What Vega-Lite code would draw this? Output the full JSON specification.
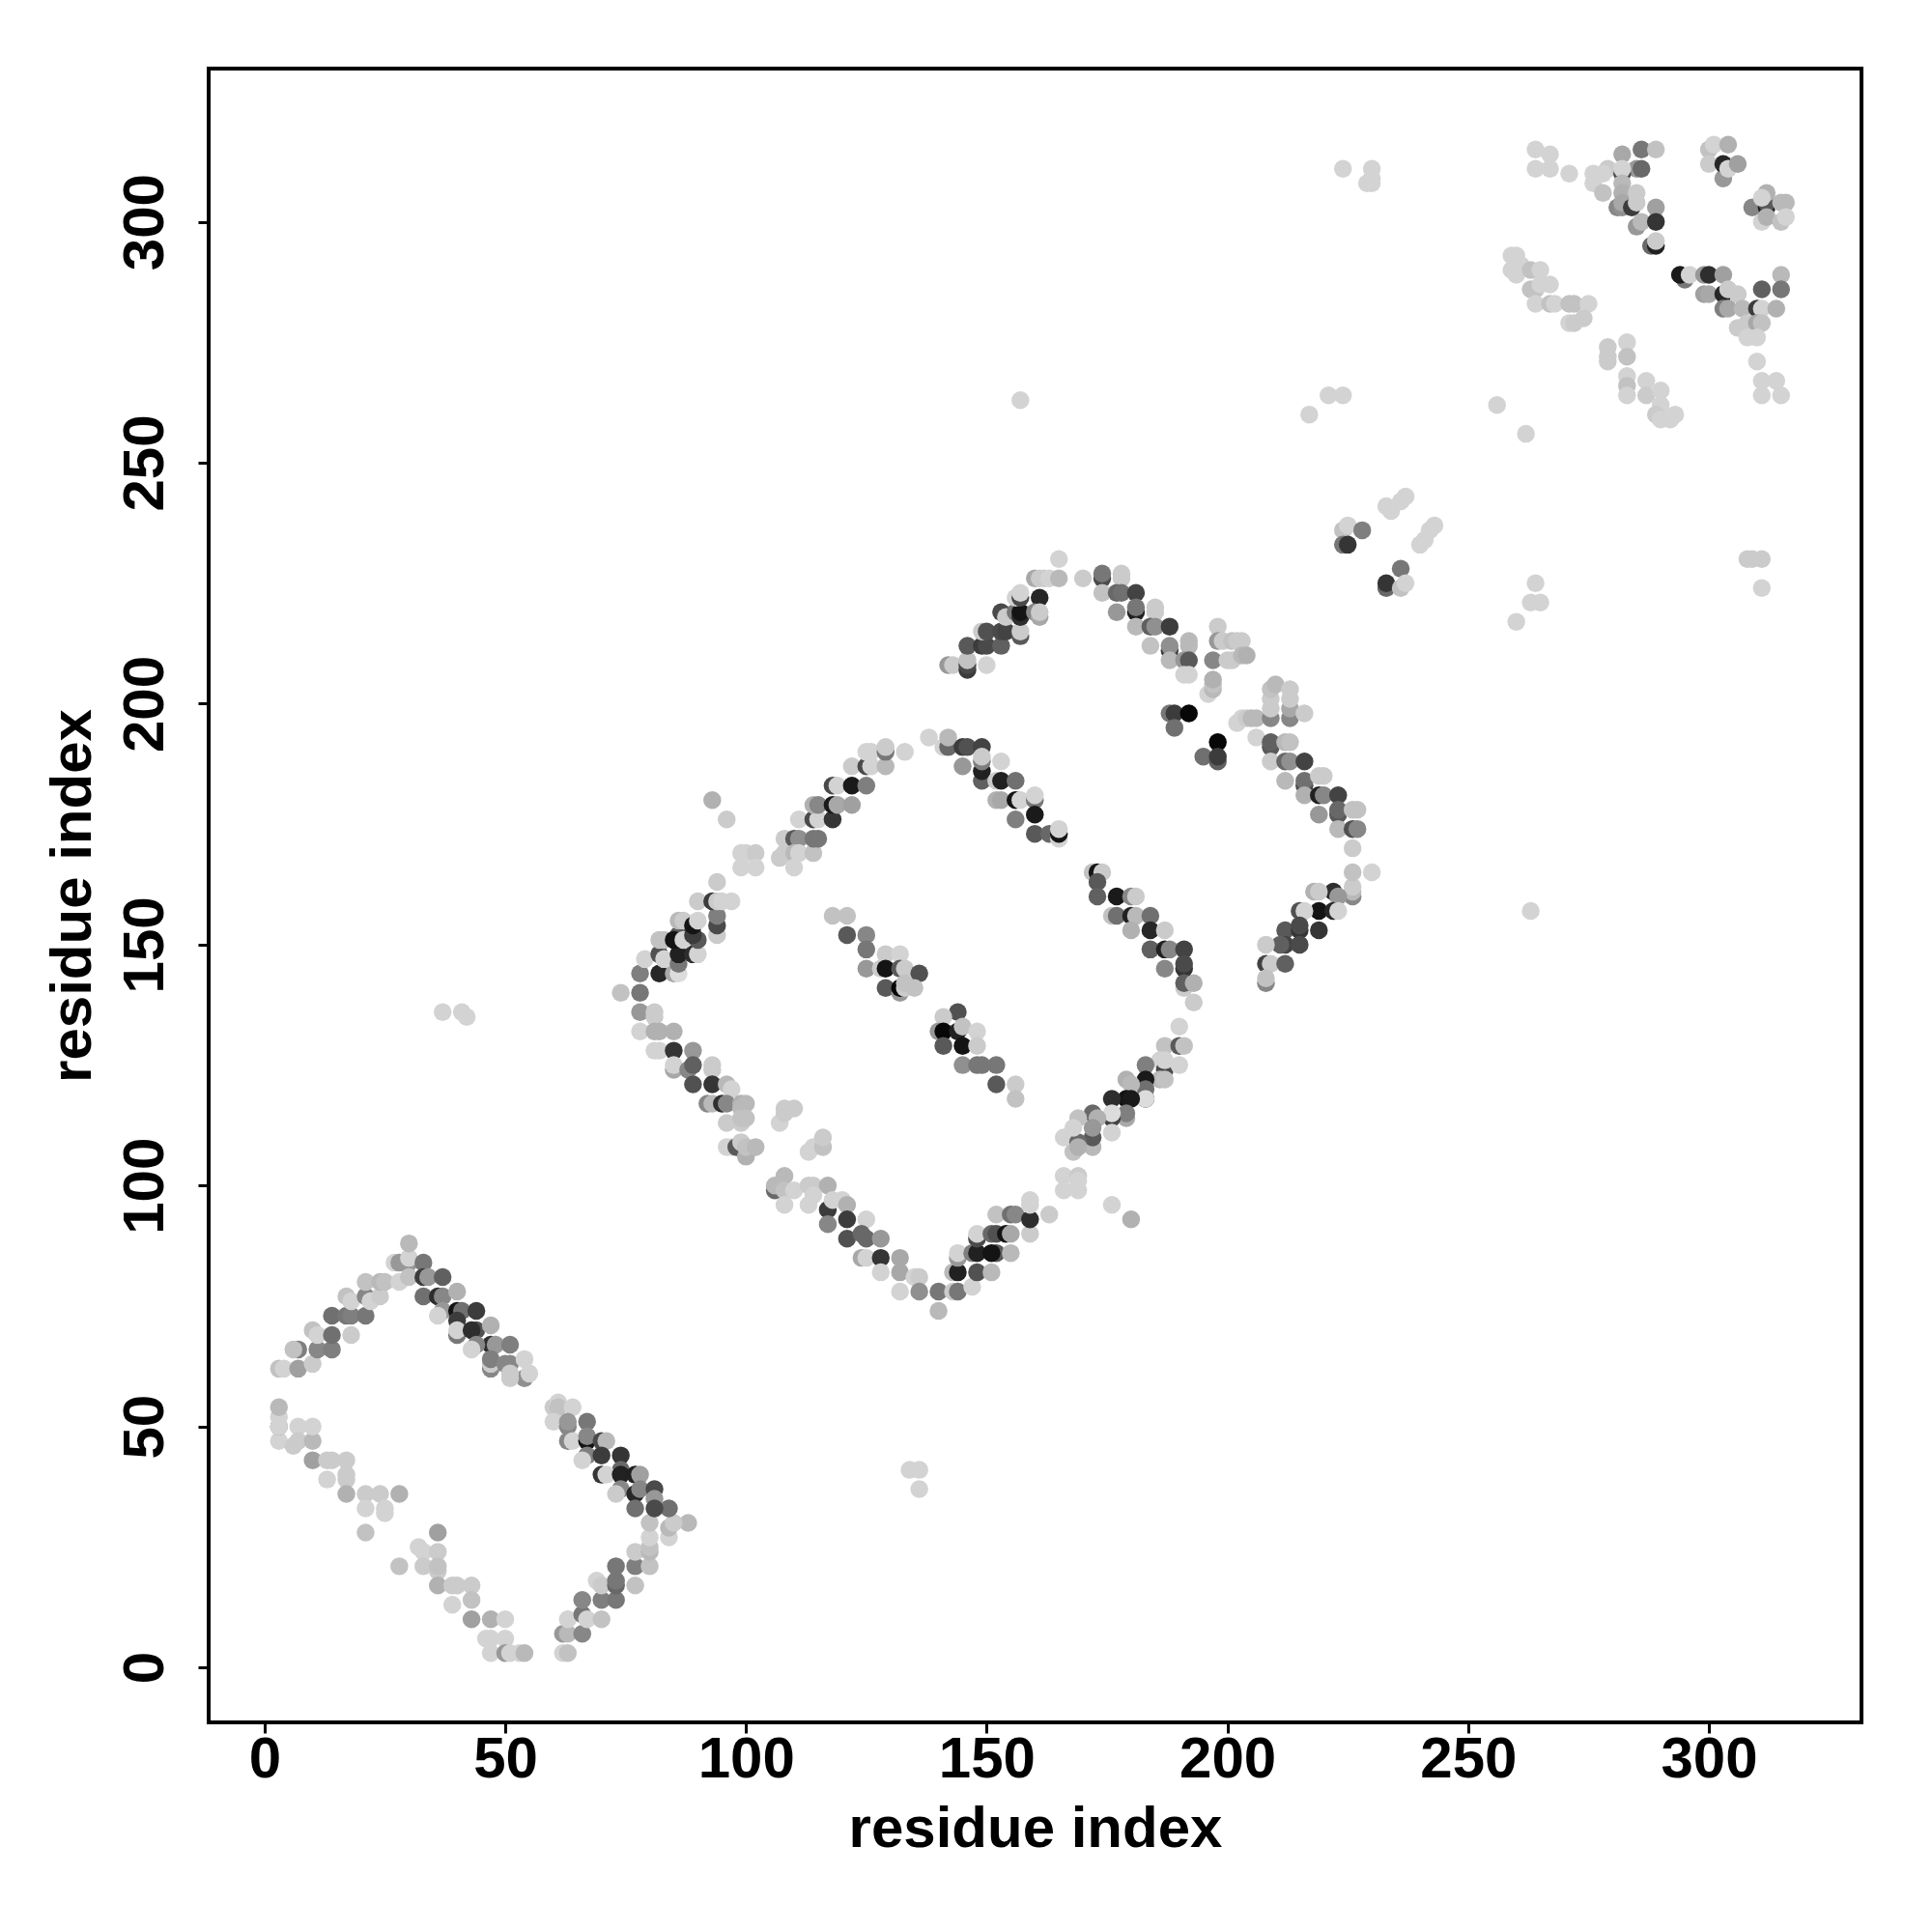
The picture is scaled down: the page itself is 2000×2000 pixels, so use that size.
{"$schema":"https://vega.github.io/schema/vega-lite/v6.json","autosize":{"type":"none"},"padding":{"left":216,"top":71,"right":73,"bottom":217},"width":1711,"height":1712,"background":"white","config":{"view":{"stroke":"#000000","strokeWidth":4}},"datasets":{"contacts":[
[3,62,200],[4,62,216],[7,62,168],[7,66,136],[6,66,200],[10,63,208],[11,66,144],[14,66,136],[10,70,200],[11,69,216],[14,69,120],[14,73,120],[18,69,208],[17,73,128],[18,73,136],[21,73,128],[17,77,200],[18,76,216],[21,77,144],[22,76,216],[24,77,208],[21,80,200],[24,80,192],[25,80,200],[27,84,216],[28,84,160],[30,84,160],[30,85,216],[28,80,216],[30,81,200],[30,88,192],
[33,84,128],[33,81,64],[34,81,160],[37,81,104],[33,77,120],[36,77,48],[37,77,144],[40,78,184],[37,74,160],[36,73,216],[40,74,16],[41,74,120],[44,74,64],[40,72,64],[40,69,128],[40,70,216],[44,70,88],[43,70,48],[47,71,184],[47,67,48],[48,67,160],[44,67,144],[43,66,216],[51,67,136],[47,62,144],[47,63,208],[47,64,136],[50,63,144],[51,63,144],[54,60,152],[51,60,208],[51,61,208],[54,64,216],[55,61,216],
[3,47,216],[3,50,144],[3,50,216],[3,52,216],[3,54,192],[6,46,208],[7,50,216],[7,47,208],[10,47,192],[10,50,216],[10,43,168],[13,43,208],[14,43,208],[17,43,208],[13,39,216],[17,40,208],[17,39,208],[17,36,184],[21,36,208],[24,36,208],[28,36,184],[21,33,216],[25,33,216],[25,32,216],[21,28,200],
[28,21,200],[36,28,168],[32,25,216],[33,24,216],[36,24,208],[33,21,208],[36,20,208],[36,21,200],[36,17,184],[39,17,208],[40,17,208],[43,17,208],[39,13,216],[43,14,200],[43,10,168],[47,10,184],[50,10,216],[46,6,216],[47,6,216],[50,6,216],[47,3,216],[50,3,160],[51,3,216],[53,3,216],[54,3,192],
[62,7,160],[63,7,192],[62,3,216],[63,3,200],[66,7,144],[63,10,216],[66,11,128],[67,10,216],[70,10,200],[66,14,144],[70,14,136],[73,14,128],[69,18,216],[70,17,208],[73,17,112],[73,18,128],[73,21,128],[77,17,200],[77,21,136],[80,21,200],[77,24,208],[80,24,192],[80,25,200],[80,27,216],[80,30,200],[84,27,216],[84,29,192],[88,30,192],[85,30,208],[84,33,120],
[60,54,208],[61,55,216],[61,54,200],[64,54,216],[60,51,216],[63,50,144],[63,51,160],[67,51,128],[63,47,144],[64,47,216],[67,47,16],[67,48,144],[70,47,80],[71,47,192],[67,44,136],[66,43,216],[70,44,64],[74,44,56],[74,41,112],[70,40,56],[71,40,216],[74,40,32],[77,40,32],[78,40,168],[74,37,144],[73,36,208],[77,36,40],[78,37,144],[81,37,80],[81,35,160],[81,33,80],[77,33,120],
[74,140,200],[78,140,128],[78,144,136],[79,147,216],[78,136,160],[81,136,208],[81,135,208],[78,132,216],[81,132,184],[82,132,184],[85,132,184],[81,128,216],[82,128,216],[85,128,56],[89,128,160],[85,124,176],[85,125,216],[88,124,144],[89,125,104],[89,121,88],[93,124,208],[93,125,208],[93,121,56],[96,121,192],[97,120,216],[92,117,144],[93,117,192],[95,117,48],[96,117,144],[99,117,184],[99,116,192],[96,113,208],[99,113,208],[99,114,200],[100,117,192],[100,114,200],[96,108,216],[97,108,216],[98,108,96],[99,109,208],[100,106,184],[100,108,200],[102,108,192],
[108,116,208],[110,116,208],[107,113,216],[108,115,208],[113,107,216],[114,108,216],[116,108,200],[116,110,208],
[106,99,112],[106,100,192],[108,102,192],[108,99,200],[108,96,216],[110,99,216],[113,100,208],[113,96,216],[114,100,208],[117,100,184],[114,98,216],[117,95,64],[117,92,144],[118,97,216],[120,97,216],[121,96,184],[121,93,64],[121,89,88],[125,93,216],[124,90,112],[125,89,112],[128,89,160],[124,85,176],[125,85,216],[128,85,56],[128,82,216],[132,85,176],[132,82,176],[132,78,216],[135,81,216],[136,81,208],[136,78,152],[140,78,128],[140,74,192],
[143,78,208],[144,78,128],[143,82,192],[144,82,32],[144,85,160],[144,86,216],[147,79,216],[147,86,136],[148,82,88],[148,86,32],[151,82,192],[148,89,80],[148,90,216],[152,86,96],[151,86,16],[151,90,112],[152,90,88],[154,90,16],[155,86,192],[155,90,176],[152,94,200],[155,94,120],[156,94,144],[159,90,208],[159,93,48],[159,96,216],[159,97,216],[163,94,208],
[118,156,200],[121,156,200],[121,152,96],[125,152,144],[125,149,128],[125,145,160],[129,148,208],[132,148,216],[128,145,208],[129,145,16],[132,145,96],[133,145,208],[136,144,88],[129,141,96],[132,140,160],[132,141,5],[133,141,208],[133,142,200],[135,141,200],
[144,136,88],[141,135,208],[140,132,160],[141,132,5],[144,132,32],[145,133,200],[148,132,216],[141,129,96],[145,129,16],[148,129,208],[145,125,152],[148,125,128],[149,125,128],[152,125,128],[152,121,96],[156,121,208],[156,118,200],
[82,144,40],[85,144,176],[86,144,224],[82,148,88],[83,147,216],[86,146,128],[86,148,32],[89,148,48],[90,148,216],[82,151,200],[83,151,200],[86,152,96],[85,151,16],[87,151,216],[90,151,96],[89,152,64],[94,152,208],[86,155,192],[87,155,208],[89,154,16],[90,155,216],[94,154,80],[94,156,136],[90,159,208],[93,159,64],[94,159,208],[95,159,216],[97,159,216],[94,163,208],
[93,180,184],[96,176,208],[99,169,216],[100,169,216],[102,169,208],[99,166,216],[102,166,216],
[107,168,208],[108,172,208],[108,169,208],[110,172,96],[111,172,152],[110,169,192],[111,169,216],[110,166,216],[114,169,200],[114,172,128],[115,172,128],[111,176,216],[114,176,80],[115,176,216],[118,176,56],[114,179,184],[115,179,144],[118,179,24],[119,179,176],[122,179,168],[118,183,80],[119,183,216],[122,183,24],[125,183,136],[122,187,208],[125,187,80],[126,187,216],[126,190,216],[125,190,216],[129,187,192],[129,190,128],[129,191,208],[133,190,216],[138,193,216],
[141,191,216],[142,191,112],[142,193,192],[145,191,64],[146,191,88],[149,191,72],[145,187,160],[149,184,104],[149,186,32],[149,188,136],[149,189,208],[153,188,216],[152,184,208],[153,184,32],[156,184,120],[152,180,184],[153,180,176],[156,180,16],[157,180,216],[160,180,128],[160,181,216],[156,176,136],[160,177,24],[160,173,96],[163,173,112],[165,172,216],[165,173,16],[165,174,216],
[142,208,160],[143,208,208],[146,207,64],[146,208,80],[146,209,200],[146,212,96],[150,208,216],[149,212,64],[150,212,80],[153,212,104],[149,215,208],[150,215,88],[153,215,80],[154,215,72],[153,219,80],[154,218,208],[157,214,96],[157,215,208],[156,219,128],[157,218,48],[157,219,16],[156,222,216],[157,222,80],[157,223,216],[161,222,40],[160,219,144],[161,218,176],[161,219,208],[160,226,176],[161,226,208],[162,226,208],[163,226,216],[165,226,192],[165,230,216],[170,226,208],
[174,226,80],[174,227,128],[178,226,208],[178,227,208],[174,223,200],[177,223,112],[178,223,120],[181,223,72],[177,219,160],[181,219,32],[181,220,128],[185,219,208],[185,220,208],[181,216,192],[184,216,104],[185,216,152],[188,216,64],[184,212,200],[188,211,64],[188,212,152],[192,212,192],[192,213,192],[188,209,192],[191,209,160],[192,209,96],[191,206,216],[192,206,216],[197,209,144],[198,216,208],[198,213,160],[199,213,208],[201,213,200],[202,213,208],[203,213,208],[200,209,208],[201,209,208],[203,210,192],[204,210,184],[196,202,216],[197,203,192],[197,204,200],[197,205,184],
[188,198,128],[189,198,64],[192,198,5],[189,195,120],[198,192,5],[195,189,120],[198,188,104],[198,189,64],
[202,196,216],[203,197,216],[204,197,208],[205,197,192],[206,197,192],[209,197,144],[209,199,208],[209,201,208],[209,203,200],[210,204,192],[213,197,144],[213,199,176],[213,201,208],[213,203,208],[216,198,208],[206,193,216],[209,191,96],[209,192,104],[212,192,192],[213,192,200],[209,188,208],[212,188,112],[213,188,152],[216,188,72],[212,184,192],[216,183,80],[216,184,120],[219,185,208],[220,185,208],[216,181,184],[219,181,32],[220,181,144],[223,181,72],[219,177,160],[223,177,96],[223,178,112],[226,178,200],[227,178,200],[223,174,192],[226,174,88],[227,174,144],[226,170,208],
[226,160,144],[226,161,192],[226,162,208],[226,165,200],[230,165,216],[222,161,48],[223,160,160],[218,161,184],[219,161,208],[219,157,16],[222,157,40],[223,157,216],[215,157,88],[216,157,216],[219,153,56],[212,153,96],[215,153,56],[215,154,80],[212,150,72],[215,150,80],[211,150,104],[208,150,208],[208,146,72],[209,146,208],[212,146,104],[208,142,144],[208,143,200],
[172,165,200],[173,165,16],[174,165,208],[173,163,96],[173,160,104],[177,160,24],[180,160,144],[181,160,208],[176,156,200],[177,156,120],[180,156,32],[181,156,192],[184,156,120],[180,153,184],[184,153,40],[187,153,208],[184,149,104],[187,149,32],[188,149,144],[191,149,72],[187,145,144],[191,145,56],[191,146,80],[191,141,208],[191,142,104],[193,142,184],[193,138,208],
[190,133,216],[187,129,200],[190,129,96],[191,129,200],[186,126,216],[187,124,80],[187,126,216],[190,125,216],[186,122,192],[187,122,200],[183,125,136],[183,122,24],[183,120,120],[183,118,48],[183,118,224],[179,122,184],[180,121,192],[179,118,16],[180,118,24],[179,114,176],[179,115,136],[176,118,48],[176,114,72],[176,115,224],[176,111,216],[172,115,112],[173,114,184],[172,108,192],[172,110,96],[172,112,160],[169,114,200],[166,110,216],[169,109,112],[168,112,216],[168,107,200],[169,108,184],
[166,102,216],[169,102,208],[166,99,216],[169,99,216],[169,101,216],[176,96,216],[180,93,184],
[224,236,200],[225,237,216],[228,236,136],[224,233,128],[225,233,56],[233,241,216],[234,240,216],[236,242,216],[237,243,216],[240,233,216],[241,234,216],[242,236,216],[243,237,216],[236,228,128],[233,224,112],[233,225,56],[236,224,200],[237,225,216],
[224,311,216],[229,308,216],[230,308,216],[230,309,216],[230,311,216],
[264,315,216],[267,314,216],[264,311,216],[267,311,216],[271,310,216],[276,310,216],[276,308,216],[279,311,208],[278,310,216],[278,306,200],[282,314,176],[286,315,128],[289,315,200],[285,311,160],[286,311,112],[282,310,80],[282,311,216],[282,308,192],[282,306,184],[281,303,144],[282,303,152],[282,304,176],[285,306,208],[284,303,64],[285,304,208],[285,299,160],[286,300,192],[289,303,168],[289,300,56],[288,295,112],[289,295,32],[289,296,208],
[300,315,200],[301,316,216],[304,316,184],[300,312,208],[303,309,160],[303,312,40],[304,311,216],[306,312,168],
[309,303,144],[312,303,32],[312,304,96],[312,306,184],[311,305,216],[315,304,192],[316,304,192],[311,300,216],[312,301,184],[315,300,200],[316,301,216],
[295,288,128],[294,289,24],[296,289,216],[299,289,160],[300,289,48],[303,289,168],[315,289,192],[315,286,128],[311,286,104],[299,285,168],[300,285,176],[303,285,40],[304,286,208],[306,285,208],[303,282,136],[304,282,176],[307,282,192],[310,282,64],[311,282,216],[314,282,184],[306,278,208],[308,279,208],[310,279,176],[311,279,200],[308,276,216],[310,276,216],[310,271,216],[311,267,216],[314,267,216],[311,264,216],[315,264,216],
[259,293,216],[260,293,216],[259,290,216],[260,289,216],[261,291,216],[263,290,200],[265,290,216],[263,286,200],[264,286,200],[265,287,216],[267,287,216],[264,283,216],[267,283,200],[268,283,216],[271,283,200],[272,283,200],[275,283,216],[271,279,216],[272,279,208],[274,280,208],
[279,271,208],[279,272,208],[279,274,208],[283,275,216],[283,272,200],[283,268,216],[283,266,200],[283,264,216],[287,267,216],[287,264,208],[290,265,216],[290,262,216],[289,260,208],[290,259,216],[293,260,216],[292,259,216],
[256,262,216],[262,256,216],[217,260,216],[221,264,216],[224,264,216],[157,263,216],[260,217,216],[263,221,216],[265,221,216],[264,225,216],[263,157,216],[308,230,208],[309,230,208],[311,230,208],[311,224,216],[37,136,216],[41,136,216],[42,135,216],[134,41,216],[136,41,216],[136,37,216]
]},"data":{"name":"contacts"},"transform":[{"calculate":"datum[0]","as":"residue_i"},{"calculate":"datum[1]","as":"residue_j"},{"calculate":"datum[2]","as":"level"}],"mark":{"type":"point","filled":true,"opacity":1,"size":342,"clip":true},"encoding":{"x":{"field":"residue_i","type":"quantitative","scale":{"domain":[-11.6,331.7],"nice":false,"zero":false},"axis":{"values":[0,50,100,150,200,250,300],"grid":false,"domain":false,"tickColor":"#000000","tickWidth":3,"tickSize":11,"labelFont":"Liberation Sans","labelFontWeight":"bold","labelFontSize":60,"labelColor":"#000000","labelPadding":-2,"title":"residue index","titleFont":"Liberation Sans","titleFontWeight":"bold","titleFontSize":60,"titleColor":"#000000","titlePadding":13}},"y":{"field":"residue_j","type":"quantitative","scale":{"domain":[-11.4,331.8],"nice":false,"zero":false},"axis":{"values":[0,50,100,150,200,250,300],"grid":false,"domain":false,"tickColor":"#000000","tickWidth":3,"tickSize":11,"labelFont":"Liberation Sans","labelFontWeight":"bold","labelFontSize":60,"labelColor":"#000000","labelAngle":-90,"labelAlign":"center","labelBaseline":"alphabetic","labelPadding":37,"title":"residue index","titleFont":"Liberation Sans","titleFontWeight":"bold","titleFontSize":60,"titleColor":"#000000","titlePadding":14}},"color":{"field":"level","type":"quantitative","legend":null,"scale":{"domain":[0,255],"range":["#000000","#ffffff"]}}}}
